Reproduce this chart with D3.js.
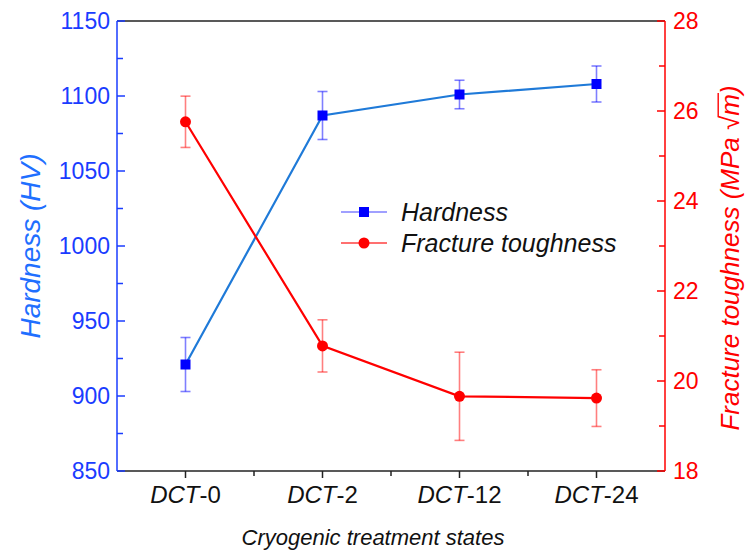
<!DOCTYPE html>
<html><head><meta charset="utf-8">
<script src="https://cdn.jsdelivr.net/npm/d3@7"></script>
<style>
body{margin:0;background:#fff;}
svg{font-family:"Liberation Sans",Arial,sans-serif;}
</style></head>
<body><svg id="c" width="747" height="554"></svg>
<script>
const categories = ["0","2","12","24"];
const hardness = [921, 1087, 1101, 1108];
const hardnessErr = [18, 16, 9.5, 12];
const toughness = [25.76, 20.78, 19.66, 19.62];
const toughnessErr = [0.57, 0.58, 0.98, 0.63];
const hardnessTicks = [850, 900, 950, 1000, 1050, 1100, 1150];
const toughnessTicks = [18, 20, 22, 24, 26, 28];

const L=117, R=665, T=21, B=471;
const svg = d3.select("#c");
const x = d3.scalePoint().domain(categories).range([L,R]).padding(0.5);
const yH = d3.scaleLinear().domain([850,1150]).range([B,T]);
const yT = d3.scaleLinear().domain([18,28]).range([B,T]);

const blueAxis="#1a3cff", blueTitle="#1f6fff", lineBlue="#1f7ad8", red="#ff0000";

svg.append("line").attr("x1",L).attr("x2",R).attr("y1",T).attr("y2",T).attr("stroke","#222").attr("stroke-width",1.5);

// bottom axis
const gx = svg.append("g").attr("transform",`translate(0,${B})`);
gx.append("line").attr("x1",L).attr("x2",R).attr("stroke","#222").attr("stroke-width",1.5);
const step = x.step();
const minorX = categories.slice(0,-1).map(c=>x(c)+step/2);
gx.selectAll(".mt").data(categories).join("line").attr("x1",d=>x(d)).attr("x2",d=>x(d)).attr("y1",0).attr("y2",7).attr("stroke","#222").attr("stroke-width",1.5);
gx.selectAll(".mn").data(minorX).join("line").attr("x1",d=>d).attr("x2",d=>d).attr("y1",0).attr("y2",5).attr("stroke","#222").attr("stroke-width",1.5);
const xl = gx.selectAll(".xl").data(categories).join("text").attr("x",d=>x(d)).attr("y",32).attr("text-anchor","middle").attr("font-size",24).attr("fill","#111");
xl.append("tspan").attr("font-style","italic").text("DCT");
xl.append("tspan").text(d=>"-"+d);
svg.append("text").attr("x",373).attr("y",545).attr("text-anchor","middle").attr("font-size",22).attr("font-style","italic").attr("fill","#111").text("Cryogenic treatment states");

// left axis
const gl = svg.append("g");
gl.append("line").attr("x1",L).attr("x2",L).attr("y1",T).attr("y2",B).attr("stroke",blueAxis).attr("stroke-width",1.5);
gl.selectAll(".t").data(hardnessTicks).join("line").attr("x1",L).attr("x2",L+8).attr("y1",d=>yH(d)).attr("y2",d=>yH(d)).attr("stroke",blueAxis).attr("stroke-width",1.5);
const hMinor = d3.range(875,1150,50);
gl.selectAll(".m").data(hMinor).join("line").attr("x1",L).attr("x2",L+6).attr("y1",d=>yH(d)).attr("y2",d=>yH(d)).attr("stroke",blueAxis).attr("stroke-width",1.5);
gl.selectAll(".lab").data(hardnessTicks).join("text").attr("x",L-7).attr("y",d=>yH(d)).attr("dy","0.36em").attr("text-anchor","end").attr("font-size",23).attr("fill",blueAxis).text(d=>d);
svg.append("text").attr("transform",`translate(40,${(T+B)/2}) rotate(-90)`).attr("text-anchor","middle").attr("font-size",28).attr("font-style","italic").attr("fill",blueTitle).text("Hardness (HV)");

// right axis
const gr = svg.append("g");
gr.append("line").attr("x1",R).attr("x2",R).attr("y1",T).attr("y2",B).attr("stroke",red).attr("stroke-width",1.5);
gr.selectAll(".t").data(toughnessTicks).join("line").attr("x1",R).attr("x2",R-8).attr("y1",d=>yT(d)).attr("y2",d=>yT(d)).attr("stroke",red).attr("stroke-width",1.5);
const tMinor = d3.range(19,28,2);
gr.selectAll(".m").data(tMinor).join("line").attr("x1",R).attr("x2",R-6).attr("y1",d=>yT(d)).attr("y2",d=>yT(d)).attr("stroke",red).attr("stroke-width",1.5);
gr.selectAll(".lab").data(toughnessTicks).join("text").attr("x",R+8).attr("y",d=>yT(d)).attr("dy","0.36em").attr("text-anchor","start").attr("font-size",23).attr("fill",red).text(d=>d);
const rtg = svg.append("g").attr("transform",`translate(739,${(T+B)/2+12}) rotate(-90)`);
const rt = rtg.append("text").attr("text-anchor","middle").attr("font-size",26).attr("font-style","italic").attr("fill",red);
const pre = "Fracture toughness (MPa ";
rt.append("tspan").text(pre);
rt.append("tspan").attr("font-style","normal").text("\u221A");
rt.append("tspan").text("m");
rt.append("tspan").text(")");
// overline (vinculum) from the radical over m
try{
  const n = rt.node();
  const iR = pre.length, iM = pre.length+1;
  const eR = n.getExtentOfChar(iR), eM = n.getExtentOfChar(iM);
  const yTop = -26*0.80;
  rtg.append("line").attr("x1",eR.x+eR.width-1.5).attr("x2",eM.x+eM.width+1).attr("y1",yTop).attr("y2",yTop).attr("stroke",red).attr("stroke-width",1.4);
}catch(e){}

function errBars(vals, errs, y, color){
  const g = svg.append("g").attr("stroke",color).attr("stroke-opacity",0.5).attr("stroke-width",1.6);
  vals.forEach((v,i)=>{
    const cx = x(categories[i]);
    g.append("line").attr("x1",cx).attr("x2",cx).attr("y1",y(v-errs[i])).attr("y2",y(v+errs[i]));
    g.append("line").attr("x1",cx-5).attr("x2",cx+5).attr("y1",y(v-errs[i])).attr("y2",y(v-errs[i]));
    g.append("line").attr("x1",cx-5).attr("x2",cx+5).attr("y1",y(v+errs[i])).attr("y2",y(v+errs[i]));
  });
}
errBars(hardness, hardnessErr, yH, "#0000ff");
errBars(toughness, toughnessErr, yT, "#ff0000");

const lineH = d3.line().x((d,i)=>x(categories[i])).y(d=>yH(d));
const lineT = d3.line().x((d,i)=>x(categories[i])).y(d=>yT(d));
svg.append("path").attr("d",lineH(hardness)).attr("fill","none").attr("stroke",lineBlue).attr("stroke-width",2.2);
svg.append("path").attr("d",lineT(toughness)).attr("fill","none").attr("stroke",red).attr("stroke-width",2.2);

svg.selectAll(".sq").data(hardness).join("rect").attr("x",(d,i)=>x(categories[i])-5).attr("y",d=>yH(d)-5).attr("width",10).attr("height",10).attr("fill","#0000ff");
svg.selectAll(".ci").data(toughness).join("circle").attr("cx",(d,i)=>x(categories[i])).attr("cy",d=>yT(d)).attr("r",5.5).attr("fill","#ff0000");

const lg = svg.append("g");
const items = [{label:"Hardness", color:"#0000ff", line:"#8080ff", shape:"sq", y:212},{label:"Fracture toughness", color:"#ff0000", line:"#ff4040", shape:"ci", y:243}];
items.forEach(it=>{
  lg.append("line").attr("x1",341).attr("x2",387).attr("y1",it.y).attr("y2",it.y).attr("stroke",it.line).attr("stroke-width",1.6);
  if(it.shape==="sq") lg.append("rect").attr("x",359).attr("y",it.y-5).attr("width",10).attr("height",10).attr("fill",it.color);
  else lg.append("circle").attr("cx",364).attr("cy",it.y).attr("r",5.5).attr("fill",it.color);
  lg.append("text").attr("x",401).attr("y",it.y).attr("dy","0.36em").attr("font-size",25).attr("font-style","italic").attr("fill","#111").text(it.label);
});
</script></body></html>
